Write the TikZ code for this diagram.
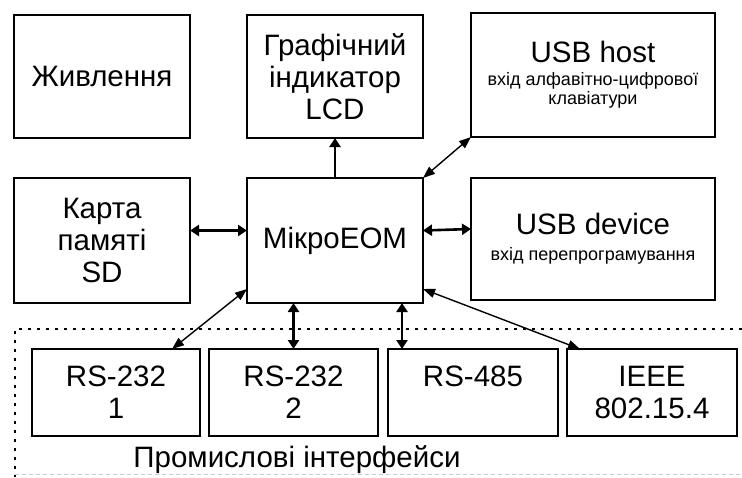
\documentclass[tikz,border=0pt]{standalone}
\usepackage{fontspec}
\setmainfont{Liberation Sans}
\usetikzlibrary{arrows.meta}
\newcommand\subtxt{\fontsize{18}{21}\selectfont}

\begin{document}
\begin{tikzpicture}[x=1pt,y=-1pt,font=\fontsize{29.5}{32}\selectfont,
  blk/.style={draw,line width=2pt,outer sep=0pt,align=center,inner sep=0pt},
  fatline/.style={line width=2.6pt},
  fat/.style={fatline,{Triangle[length=9pt,width=11pt]}-{Triangle[length=9pt,width=11pt]}},
  thin/.style={line width=1.4pt,{Triangle[length=12pt,width=9pt]}-{Triangle[length=12pt,width=9pt]}}]
 \useasboundingbox (0,0) rectangle (742,477);
 % ---- upper blocks ----
 \node[blk,minimum width=176pt,minimum height=123pt] (pow) at (102,76.5) {Живлення};
 \node[blk,minimum width=176pt,minimum height=123pt] (lcd) at (335,76.5) {Графічний\\індикатор\\LCD};
 \node[blk,minimum width=244pt,minimum height=124pt] (host) at (593,75)
   {USB host\\[-9pt]{\subtxt вхід алфавітно-цифрової}\\[-13pt]{\subtxt клавіатури}};
 \node[blk,minimum width=176pt,minimum height=125pt] (sd) at (102,240.5) {Карта\\памяті\\SD};
 \node[blk,minimum width=176pt,minimum height=125pt] (mcu) at (335,240.5) {МікроЕОМ};
 \node[blk,minimum width=244pt,minimum height=122pt] (dev) at (593,239)
   {USB device\\[-6pt]{\subtxt вхід перепрограмування}};
 % ---- industrial interfaces ----
 \node[blk,minimum width=168pt,minimum height=87pt] (rs1) at (116,392.5) {RS-232\\1};
 \node[blk,minimum width=169pt,minimum height=87pt] (rs2) at (293.5,392.5) {RS-232\\2};
 \node[blk,minimum width=170pt,minimum height=87pt] (rs485) at (473,392.5) {RS-485\\\phantom{1}};
 \node[blk,minimum width=170pt,minimum height=87pt] (ieee) at (652,392.5) {IEEE\\802.15.4};
 \draw[line width=2.8pt,dash pattern=on 3pt off 6pt] (742,329) -- (15,329) -- (15,477);
 \draw[gray!40,line width=0.8pt,dash pattern=on 4pt off 3pt] (15,474.5) -- (742,474.5);
 \node[anchor=base] (ind) at (297,467) {Промислові інтерфейси};
 % ---- links ----
 \draw[fatline,-{Triangle[length=9pt,width=11pt]}] (mcu) -- (lcd);
 \draw[thin] (mcu.north east) -- (host.south west);
 \draw[fat] ([yshift=10pt]sd.east) -- ([yshift=10pt]mcu.west);
 \draw[fat] ([yshift=10pt]mcu.east) -- ([yshift=10pt]dev.west);
 \draw[thin] ([yshift=14pt]mcu.south west) -- ([xshift=-28pt]rs1.north east);
 \draw[fat] (mcu.south -| rs2.north) -- (rs2.north);
 \draw[fat] ([xshift=-21pt]mcu.south east) -- ([xshift=-21pt]mcu.south east |- rs485.north);
 \draw[thin] ([yshift=14pt]mcu.south east) -- ([xshift=13pt]ieee.north west);
\end{tikzpicture}
\end{document}
